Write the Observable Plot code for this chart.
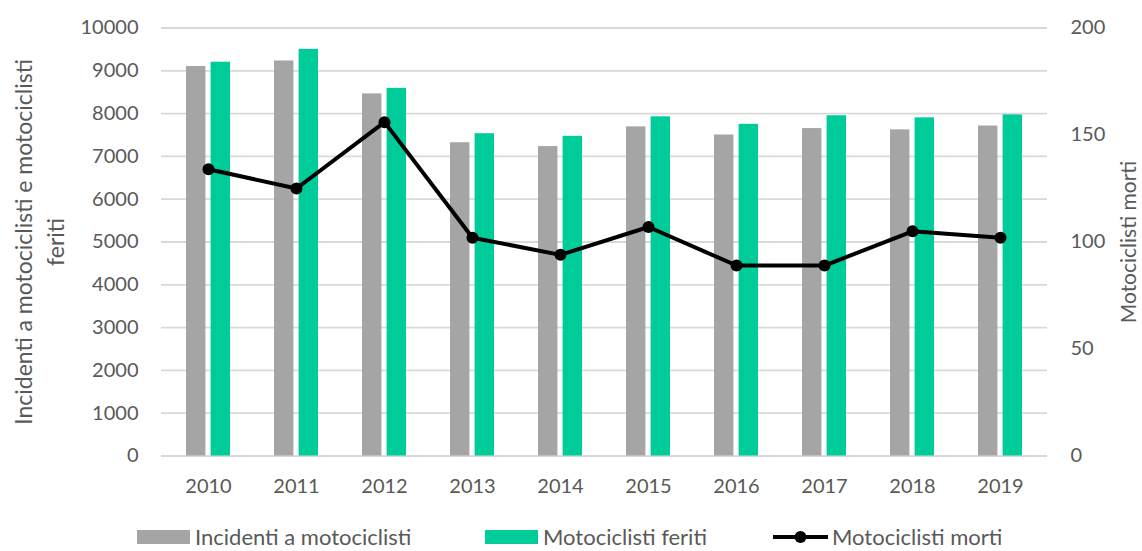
<!DOCTYPE html>
<html>
<head>
<meta charset="utf-8">
<script src="https://cdn.jsdelivr.net/npm/d3@7"></script>
<script src="https://cdn.jsdelivr.net/npm/@observablehq/plot@0.6"></script>
<style>
  body { margin: 0; background: #fff; font-family: Lato, "Open Sans", sans-serif; overflow: hidden; }
  #legend { position: relative; height: 46px; color: #595959; font-size: 22px; line-height: 16px; }
  .item { position: absolute; top: 24px; height: 16px; display: flex; align-items: center; white-space: nowrap; }
  .sw { width: 53px; height: 14px; margin-right: 5px; }
</style>
</head>
<body>
<div id="chart"></div>
<div id="legend"></div>
<script>
const years = ["2010","2011","2012","2013","2014","2015","2016","2017","2018","2019"];
const incidenti = [9100, 9230, 8460, 7320, 7230, 7690, 7500, 7650, 7620, 7710];
const feriti = [9200, 9500, 8590, 7530, 7470, 7925, 7750, 7950, 7900, 7970];
const morti = [134, 125, 156, 102, 94, 107, 89, 89, 105, 102];
const leftTicks = [0,1000,2000,3000,4000,5000,6000,7000,8000,9000,10000];
const rightTicks = [0, 50, 100, 150, 200];
const seriesNames = ["Incidenti a motociclisti", "Motociclisti feriti", "Motociclisti morti"];
const colors = ["#A5A5A5", "#00CC99", "#000000"];
const leftLabel = "Incidenti a motociclisti e motociclisti\nferiti";
const rightLabel = "Motociclisti morti";

const ratio = 10000 / 200; // right axis scaling onto left scale
const data = years.map((y, i) => ({year: y, incidenti: incidenti[i], feriti: feriti[i], morti: morti[i]}));

const chart = Plot.plot({
  width: 1142,
  height: 505,
  marginLeft: 161,
  marginRight: 95,
  marginTop: 27.5,
  marginBottom: 49.5,
  style: {fontFamily: "Lato, 'Open Sans', sans-serif", fontSize: "20px", color: "#595959", background: "#fff"},
  x: {type: "band", domain: years, padding: 0},
  y: {domain: [0, 10000]},
  marks: [
    Plot.gridY(leftTicks, {stroke: "#D9D9D9", strokeOpacity: 1, strokeWidth: 1.8}),
    Plot.barY(data, {x: "year", y: "incidenti", fill: colors[0], insetLeft: 22, insetRight: 46.6}),
    Plot.barY(data, {x: "year", y: "feriti", fill: colors[1], insetLeft: 46.6, insetRight: 22}),
    Plot.line(data, {x: "year", y: d => d.morti * ratio, stroke: colors[2], strokeWidth: 4}),
    Plot.dot(data, {x: "year", y: d => d.morti * ratio, fill: colors[2], r: 6}),
    Plot.axisY(leftTicks, {anchor: "left", tickSize: 0, tickPadding: 23, tickFormat: d => String(d), label: null, fill: "#595959"}),
    Plot.axisY(rightTicks.map(t => t * ratio), {anchor: "right", tickSize: 0, tickPadding: 23, tickFormat: d => String(d / ratio), label: null, fill: "#595959"}),
    Plot.axisX({tickSize: 0, tickPadding: 23, label: null, fill: "#595959"}),
    Plot.text([leftLabel], {frameAnchor: "left", text: d => d, rotate: -90, dx: -124, lineHeight: 1.4, textAnchor: "middle", fill: "#595959", fontSize: 23}),
    Plot.text([rightLabel], {frameAnchor: "right", text: d => d, rotate: -90, dx: 82, textAnchor: "middle", fill: "#595959", fontSize: 21})
  ]
});
document.getElementById("chart").appendChild(chart);

const legend = document.getElementById("legend");
const legendX = [137, 485, 773];
seriesNames.forEach((name, i) => {
  const item = document.createElement("div");
  item.className = "item";
  item.style.left = legendX[i] + "px";
  if (i < 2) {
    const sw = document.createElement("div");
    sw.className = "sw";
    sw.style.background = colors[i];
    item.appendChild(sw);
  } else {
    const ns = "http://www.w3.org/2000/svg";
    const svg = document.createElementNS(ns, "svg");
    svg.setAttribute("width", 55); svg.setAttribute("height", 16);
    svg.style.marginRight = "4px";
    const ln = document.createElementNS(ns, "line");
    ln.setAttribute("x1", 0); ln.setAttribute("x2", 55); ln.setAttribute("y1", 8); ln.setAttribute("y2", 8);
    ln.setAttribute("stroke", colors[2]); ln.setAttribute("stroke-width", 4);
    const c = document.createElementNS(ns, "circle");
    c.setAttribute("cx", 27.5); c.setAttribute("cy", 8); c.setAttribute("r", 6); c.setAttribute("fill", colors[2]);
    svg.appendChild(ln); svg.appendChild(c);
    item.appendChild(svg);
  }
  const t = document.createElement("span");
  t.textContent = name;
  item.appendChild(t);
  legend.appendChild(item);
});
</script>
</body>
</html>
